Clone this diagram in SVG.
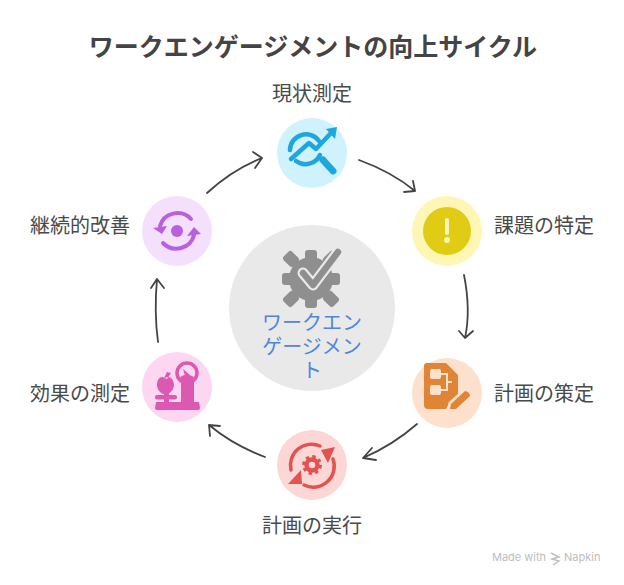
<svg xmlns="http://www.w3.org/2000/svg" width="624" height="585" viewBox="0 0 624 585">
<style>
text{font-family:"Noto Sans CJK JP","Noto Sans",sans-serif}
.l{font-size:20px;fill:#4a4a4a}
.m{font-family:"Liberation Sans","Noto Sans CJK JP",sans-serif;font-size:20px;fill:#4f86d9}
.c{fill:none;stroke:#444;stroke-width:1.8;stroke-linecap:round;stroke-linejoin:round}
</style>
<rect width="624" height="585" fill="#fff"/>
<text id="title" x="313" y="56" text-anchor="middle" font-size="25" font-weight="700" fill="#444">ワークエンゲージメントの向上サイクル</text>
<g id="connectors">
<path class="c" d="M359 160Q392 172 415 191M404 192L415 191L413 181"/>
<path class="c" d="M464 275Q471 310 465 338M459 331L465 338L473 331"/>
<path class="c" d="M417 424Q393 445 363 458M372 448L363 458L376 460"/>
<path class="c" d="M265 457Q233 445 209 425M210 436L209 425L220 426"/>
<path class="c" d="M158 342Q154 312 157 279M151 288L157 279L164 288"/>
<path class="c" d="M207 193Q232 170 262 158M253 152L262 158L255 168"/>
</g>
<g id="center">
<circle cx="312" cy="308" r="83" fill="#e9e9e9"/>
<g fill="#8f8f8f">
<circle cx="311" cy="279" r="22"/>
<rect x="305" y="250" width="12" height="14" rx="3"/>
<rect x="305" y="294" width="12" height="14" rx="3"/>
<rect x="282" y="273" width="14" height="12" rx="3"/>
<rect x="326" y="273" width="14" height="12" rx="3"/>
<rect x="285" y="252" width="12" height="14" rx="3" transform="rotate(-45 291 259)"/>
<rect x="325" y="292" width="12" height="14" rx="3" transform="rotate(-45 331 299)"/>
<rect x="285" y="292" width="12" height="14" rx="3" transform="rotate(45 291 299)"/>
<rect x="325" y="252" width="12" height="14" rx="3" transform="rotate(45 331 259)"/>
</g>
<path fill="none" stroke="#e9e9e9" stroke-width="11" stroke-linecap="round" stroke-linejoin="round" d="M303 273L313 285L341 248"/>
<path fill="none" stroke="#8f8f8f" stroke-width="6.5" stroke-linecap="round" stroke-linejoin="round" d="M303 273L313 285L338 252"/>
<text class="m" text-anchor="middle"><tspan x="312" y="330">ワークエン</tspan><tspan x="312" y="354">ゲージメン</tspan><tspan x="312" y="378">ト</tspan></text>
</g>
<g id="node1">
<circle cx="312" cy="153" r="35" fill="#cff2fd"/>
<g fill="none" stroke="#1ea7dc" stroke-width="4.5" stroke-linecap="round" stroke-linejoin="round">
<path d="M290 150A16 16 0 0 1 319 141M296 161A16 16 0 0 0 320 155"/>
<path d="M291 159L309 143L316 149L331 133"/>
<path stroke-width="7" d="M323 160L333 171"/>
</g>
<path fill="#1ea7dc" d="M326 129L337 127L335 139Z"/>
</g>
<text class="l" x="312" y="101" text-anchor="middle">現状測定</text>
<g id="node2">
<circle cx="447" cy="231" r="35" fill="#fdf6b4"/>
<circle cx="447" cy="231" r="24" fill="#e0cc15"/>
<rect x="445" y="218" width="4" height="17" rx="2" fill="#fdf6b4"/>
<circle cx="447" cy="240" r="3" fill="#fdf6b4"/>
</g>
<text class="l" x="494" y="233">課題の特定</text>
<g id="node3">
<circle cx="447" cy="393" r="35" fill="#fde1cc"/>
<path fill="#e08435" d="M427 363Q424 363 424 366L424 405Q424 409 428 409L446 409L449 403L458 394L458 375L446 363Z"/>
<g fill="#fde1cc"><rect x="430" y="369" width="11" height="10" rx="2"/><rect x="430" y="385" width="11" height="10" rx="2"/></g>
<path fill="none" stroke="#fde1cc" stroke-width="2" d="M441 374L447 374L447 390L441 390M447 382L452 382"/>
<path fill="none" stroke="#fde1cc" stroke-width="3" d="M449 409L450 403L466 389"/>
<path fill="#e08435" d="M450 409L451 404L465 391Q470 392 470 396L456 409Z"/>
</g>
<text class="l" x="494" y="401">計画の策定</text>
<g id="node4">
<circle cx="312" cy="465" r="35" fill="#fdd6d6"/>
<g fill="none" stroke="#e2534f" stroke-width="3.5" stroke-linecap="round">
<path d="M291 470A21 21 0 0 1 320 446"/><path d="M333 459A21 21 0 0 1 304 485"/>
</g>
<path fill="#e2534f" d="M321 450L335 447L328 463ZM288 484L302 484L301 470Z"/>
<circle cx="312" cy="465" r="5.5" fill="none" stroke="#e2534f" stroke-width="4.5"/>
<circle cx="312" cy="465" r="8.5" fill="none" stroke="#e2534f" stroke-width="3" stroke-dasharray="3.4 3.27"/>
</g>
<text class="l" x="312" y="533" text-anchor="middle">計画の実行</text>
<g id="node5">
<circle cx="177" cy="387" r="35" fill="#fdd6f1"/>
<path fill="#dd58b0" d="M181 380L194 380L194 402L199 402L200 408Q200 410 198 410L157 410Q155 410 155 408L156 402L181 402Z"/>
<circle cx="187" cy="373" r="10" fill="#fdd6f1" stroke="#dd58b0" stroke-width="3.5"/>
<path fill="#dd58b0" d="M180 377Q187 372 194 377L191 382L183 382ZM183 369L190 375L185 376Z"/>
<path fill="#dd58b0" d="M165 378C160 375 157 380 157 385C157 390 162 395 165 394C169 395 174 390 174 385C174 380 170 375 165 378ZM164 378L167 372L171 373L167 379Z"/>
<rect x="155" y="395" width="22" height="4.5" rx="2" fill="#dd58b0"/>
<rect x="164" y="392" width="5" height="12" fill="#dd58b0"/>
</g>
<text class="l" x="30" y="401">効果の測定</text>
<g id="node6">
<circle cx="177" cy="231" r="35" fill="#f4dffc"/>
<circle cx="177" cy="231" r="6" fill="#b860de"/>
<g fill="none" stroke="#b860de" stroke-width="4" stroke-linecap="round">
<path d="M160 226A18 17 0 0 1 191 219"/><path d="M194 235A18 17 0 0 1 163 243"/>
</g>
<path fill="#b860de" d="M153 228L167 226L162 234ZM187 236L201 234L194 227Z"/>
</g>
<text class="l" x="30" y="233">継続的改善</text>
<g id="watermark" fill="#bdbdbd">
<text x="492" y="561" font-size="11" style="font-family:'Inter',sans-serif">Made with</text>
<path fill="none" stroke="#bdbdbd" stroke-width="1.4" d="M551 553L559 557L552 559L559 561L553 565"/>
<text x="564" y="561" font-size="11" style="font-family:'Inter',sans-serif">Napkin</text>
</g>
</svg>
